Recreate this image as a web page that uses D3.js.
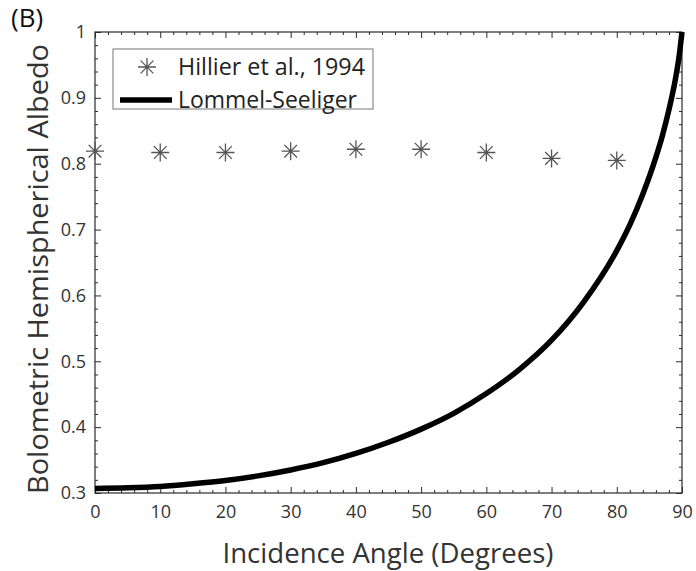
<!DOCTYPE html>
<html>
<head>
<meta charset="utf-8">
<script src="https://cdn.jsdelivr.net/npm/d3@7"></script>
<style>
  html, body { margin: 0; padding: 0; background: #fff; }
  svg text { font-family: "Open Sans", "DejaVu Sans", sans-serif; }
</style>
</head>
<body>
<div id="chart"></div>
<script>
// Hillier et al., 1994 measurements (asterisks)
var hillierAngle = [0, 10, 20, 30, 40, 50, 60, 70, 80];
var hillierAlbedo = [0.819, 0.817, 0.817, 0.819, 0.822, 0.822, 0.817, 0.808, 0.805];

// Lommel-Seeliger curve
var lsAngle = [0, 5, 10, 15, 20, 25, 30, 35, 40, 45, 50, 55, 60, 65, 70, 75, 80, 82, 84, 86, 87, 88, 89, 89.5, 90];
var lsAlbedo = [0.307, 0.308, 0.310, 0.314, 0.319, 0.326, 0.335, 0.346, 0.360, 0.377, 0.397, 0.421, 0.451,
                0.487, 0.532, 0.591, 0.668, 0.707, 0.754, 0.810, 0.843, 0.882, 0.929, 0.959, 1.0];

var xTicks = [0, 10, 20, 30, 40, 50, 60, 70, 80, 90];
var yTicks = [0.3, 0.4, 0.5, 0.6, 0.7, 0.8, 0.9, 1];
var yTickLabels = ["0.3", "0.4", "0.5", "0.6", "0.7", "0.8", "0.9", "1"];

var w = 696, h = 571;
var margin = {top: 32, right: 14, bottom: 78, left: 95};
var axisColor = "#2b2b2b", textColor = "#333";

var svg = d3.select("#chart").append("svg")
    .attr("width", w)
    .attr("height", h);

var x = d3.scaleLinear().domain([0, 90]).range([margin.left, w - margin.right]);
var y = d3.scaleLinear().domain([0.3, 1]).range([h - margin.bottom, margin.top]);

var minorX = d3.range(0, 90.1, 2).filter(function(d) { return d % 10 !== 0; });
var minorY = d3.range(30, 100.1, 2).filter(function(d) { return d % 10 !== 0; })
    .map(function(d) { return d / 100; });

function styleAxis(g) {
  g.select(".domain").remove();
  g.selectAll("line").attr("stroke", axisColor).attr("stroke-width", 1);
  g.selectAll("text")
      .attr("fill", textColor)
      .style("font-size", "18px");
}

// major + minor ticks, all pointing inward
svg.append("g")
    .attr("transform", "translate(0," + y(0.3) + ")")
    .call(d3.axisBottom(x).tickValues(xTicks).tickSize(-6).tickPadding(12))
    .call(styleAxis);
svg.append("g")
    .attr("transform", "translate(0," + y(0.3) + ")")
    .call(d3.axisBottom(x).tickValues(minorX).tickSize(-3).tickFormat(""))
    .call(styleAxis);
svg.append("g")
    .attr("transform", "translate(0," + y(1) + ")")
    .call(d3.axisTop(x).tickValues(xTicks).tickSize(-6).tickFormat(""))
    .call(styleAxis);
svg.append("g")
    .attr("transform", "translate(0," + y(1) + ")")
    .call(d3.axisTop(x).tickValues(minorX).tickSize(-3).tickFormat(""))
    .call(styleAxis);

svg.append("g")
    .attr("transform", "translate(" + x(0) + ",0)")
    .call(d3.axisLeft(y).tickValues(yTicks).tickSize(-6).tickPadding(9)
        .tickFormat(function(d, i) { return yTickLabels[i]; }))
    .call(styleAxis);
svg.append("g")
    .attr("transform", "translate(" + x(0) + ",0)")
    .call(d3.axisLeft(y).tickValues(minorY).tickSize(-3).tickFormat(""))
    .call(styleAxis);
svg.append("g")
    .attr("transform", "translate(" + x(90) + ",0)")
    .call(d3.axisRight(y).tickValues(yTicks).tickSize(-6).tickFormat(""))
    .call(styleAxis);
svg.append("g")
    .attr("transform", "translate(" + x(90) + ",0)")
    .call(d3.axisRight(y).tickValues(minorY).tickSize(-3).tickFormat(""))
    .call(styleAxis);

// box
svg.append("rect")
    .attr("x", x(0)).attr("y", y(1))
    .attr("width", x(90) - x(0)).attr("height", y(0.3) - y(1))
    .attr("fill", "none")
    .attr("stroke", axisColor)
    .attr("stroke-width", 1.2);

// Lommel-Seeliger curve
var line = d3.line()
    .x(function(d, i) { return x(lsAngle[i]); })
    .y(function(d) { return y(d); })
    .curve(d3.curveMonotoneX);

svg.append("path")
    .datum(lsAlbedo)
    .attr("d", line)
    .attr("fill", "none")
    .attr("stroke", "#000")
    .attr("stroke-width", 5.5);

// asterisk markers
function asterisk(r) {
  var d = r * Math.SQRT1_2;
  return "M" + (-r) + ",0L" + r + ",0M0," + (-r) + "L0," + r +
         "M" + (-d) + "," + (-d) + "L" + d + "," + d +
         "M" + (-d) + "," + d + "L" + d + "," + (-d);
}

svg.append("g")
    .selectAll("path")
    .data(hillierAlbedo)
    .enter().append("path")
    .attr("transform", function(d, i) { return "translate(" + x(hillierAngle[i]) + "," + y(d) + ")"; })
    .attr("d", asterisk(9))
    .attr("fill", "none")
    .attr("stroke", "#555")
    .attr("stroke-width", 1.3);

// legend
var legend = svg.append("g");
legend.append("rect")
    .attr("x", 113).attr("y", 49)
    .attr("width", 260).attr("height", 60)
    .attr("fill", "#fff")
    .attr("stroke", "#777")
    .attr("stroke-width", 1);
legend.append("path")
    .attr("transform", "translate(147,67)")
    .attr("d", asterisk(9))
    .attr("fill", "none")
    .attr("stroke", "#555")
    .attr("stroke-width", 1.3);
legend.append("line")
    .attr("x1", 120).attr("x2", 172)
    .attr("y1", 100).attr("y2", 100)
    .attr("stroke", "#000")
    .attr("stroke-width", 5.5);
legend.append("text")
    .attr("x", 178).attr("y", 75)
    .attr("fill", "#222")
    .style("font-size", "23px")
    .attr("textLength", 187)
    .attr("lengthAdjust", "spacingAndGlyphs")
    .text("Hillier et al., 1994");
legend.append("text")
    .attr("x", 178).attr("y", 108)
    .attr("fill", "#222")
    .style("font-size", "23px")
    .attr("textLength", 179)
    .attr("lengthAdjust", "spacingAndGlyphs")
    .text("Lommel-Seeliger");

// axis titles
svg.append("text")
    .attr("x", 388)
    .attr("y", 563)
    .attr("text-anchor", "middle")
    .attr("fill", textColor)
    .style("font-size", "27px")
    .attr("textLength", 331)
    .attr("lengthAdjust", "spacingAndGlyphs")
    .text("Incidence Angle (Degrees)");

svg.append("text")
    .attr("transform", "translate(48,269) rotate(-90)")
    .attr("text-anchor", "middle")
    .attr("fill", textColor)
    .style("font-size", "28px")
    .attr("textLength", 450)
    .attr("lengthAdjust", "spacingAndGlyphs")
    .text("Bolometric Hemispherical Albedo");

// panel label
svg.append("text")
    .attr("x", 11).attr("y", 27)
    .attr("fill", "#111")
    .style("font-size", "26px")
    .text("(B)");
</script>
</body>
</html>
